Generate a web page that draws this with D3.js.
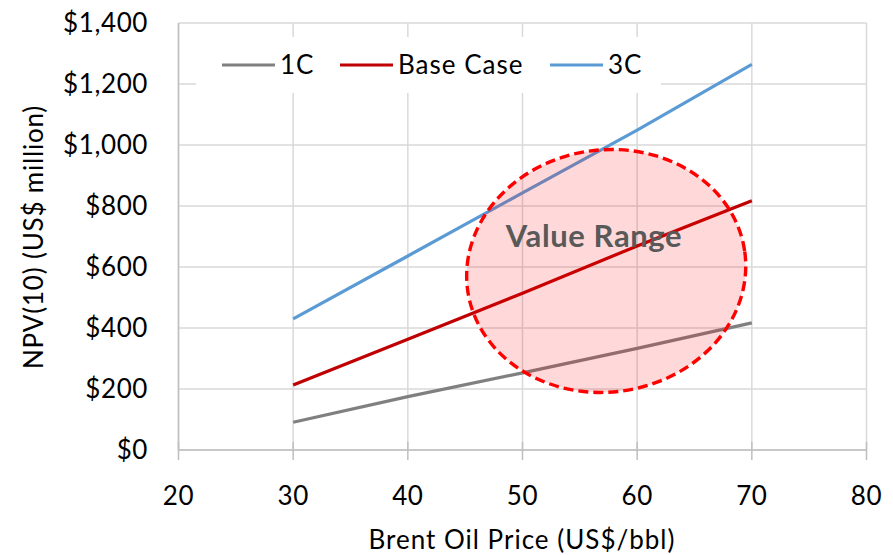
<!DOCTYPE html>
<html><head><meta charset="utf-8">
<script src="https://cdn.jsdelivr.net/npm/d3@7"></script>
<style>body{margin:0;background:#fff}svg{display:block}text{font-family:Lato,"Open Sans",sans-serif}</style>
</head><body><svg id="c" width="893" height="555"></svg>
<script>
const prices = [30, 40, 50, 60, 70];
const series1C = [91, 175, 253, 333, 417];
const seriesBase = [213, 363, 514, 669, 817];
const series3C = [430, 636, 843, 1049, 1264];
const seriesNames = ["1C", "Base Case", "3C"];
const seriesColors = ["#808080", "#c00000", "#5b9bd5"];
const xTicks = [20, 30, 40, 50, 60, 70, 80];
const yTicks = [0, 200, 400, 600, 800, 1000, 1200, 1400];
const rangeCenter = [57.3, 587];
const rangeRadii = [12.2, 397];

const svg = d3.select("#c");
const x = d3.scaleLinear().domain([20, 80]).range([178.5, 866.5]);
const y = d3.scaleLinear().domain([0, 1400]).range([450, 23]);

// grid
svg.append("g").selectAll("line").data(xTicks).join("line")
  .attr("x1", d => x(d)).attr("x2", d => x(d)).attr("y1", y(1400)).attr("y2", y(0))
  .attr("stroke", "#d9d9d9").attr("stroke-width", 1.5);
svg.append("g").selectAll("line").data(yTicks).join("line")
  .attr("x1", x(20)).attr("x2", x(80)).attr("y1", d => y(d)).attr("y2", d => y(d))
  .attr("stroke", "#d9d9d9").attr("stroke-width", 1.5);
// axes
svg.append("line").attr("x1", x(20)).attr("x2", x(20)).attr("y1", y(1400)).attr("y2", y(0)).attr("stroke", "#bfbfbf").attr("stroke-width", 1.5);
svg.append("line").attr("x1", x(20)).attr("x2", x(80)).attr("y1", y(0)).attr("y2", y(0)).attr("stroke", "#bfbfbf").attr("stroke-width", 1.5);
svg.append("g").selectAll("line").data(xTicks).join("line")
  .attr("x1", d => x(d)).attr("x2", d => x(d)).attr("y1", y(0) - 8).attr("y2", y(0) + 10)
  .attr("stroke", "#bfbfbf").attr("stroke-width", 1.5);

const fs = 26, ls = "0.6px";
// tick labels
svg.append("g").selectAll("text").data(yTicks).join("text")
  .attr("x", 148).attr("y", d => y(d)).attr("dy", "0.35em").attr("text-anchor", "end")
  .attr("font-size", fs).attr("letter-spacing", ls).attr("fill", "#000").text(d => d3.format("$,")(d));
svg.append("g").selectAll("text").data(xTicks).join("text")
  .attr("x", d => x(d)).attr("y", 505).attr("text-anchor", "middle")
  .attr("font-size", fs).attr("letter-spacing", ls).attr("fill", "#000").text(d => d);
svg.append("text").attr("x", 522).attr("y", 549).attr("text-anchor", "middle")
  .attr("font-size", fs).attr("letter-spacing", "1px").text("Brent Oil Price (US$/bbl)");
svg.append("text").attr("transform", "translate(43,237) rotate(-90)").attr("text-anchor", "middle")
  .attr("font-size", fs).attr("letter-spacing", "0.8px").text("NPV(10) (US$ million)");

// lines
const allSeries = [series1C, seriesBase, series3C];
const line = d3.line().x((d, i) => x(prices[i])).y(d => y(d));
allSeries.forEach((s, k) => {
  svg.append("path").attr("d", line(s)).attr("fill", "none")
    .attr("stroke", seriesColors[k]).attr("stroke-width", 3.2);
});

// legend
const lg = svg.append("g");
lg.append("rect").attr("x", 196).attr("y", 37).attr("width", 465).attr("height", 56).attr("fill", "#fff");
const legX = [222, 340, 550];
seriesNames.forEach((n, k) => {
  lg.append("line").attr("x1", legX[k]).attr("x2", legX[k] + 53).attr("y1", 65).attr("y2", 65)
    .attr("stroke", seriesColors[k]).attr("stroke-width", 3.2);
  lg.append("text").attr("x", legX[k] + 58).attr("y", 65).attr("dy", "0.35em")
    .attr("font-size", fs).attr("letter-spacing", "1px").text(n);
});

// value range ellipse
const cx = x(rangeCenter[0]), cy = y(rangeCenter[1]);
const rx = x(20 + rangeRadii[0]) - x(20), ry = y(0) - y(rangeRadii[1]);
svg.append("ellipse").attr("cx", cx).attr("cy", cy).attr("rx", rx).attr("ry", ry)
  .attr("transform", `rotate(-8,${cx},${cy})`)
  .attr("fill", "rgba(255,0,0,0.15)").attr("stroke", "#ff0000").attr("stroke-width", 3.4)
  .attr("stroke-dasharray", "10,5");
svg.append("text").attr("x", 594).attr("y", 247).attr("text-anchor", "middle")
  .attr("font-size", 31).attr("letter-spacing", "0.6px").attr("font-weight", "bold").attr("fill", "#595959").text("Value Range");
</script></body></html>
